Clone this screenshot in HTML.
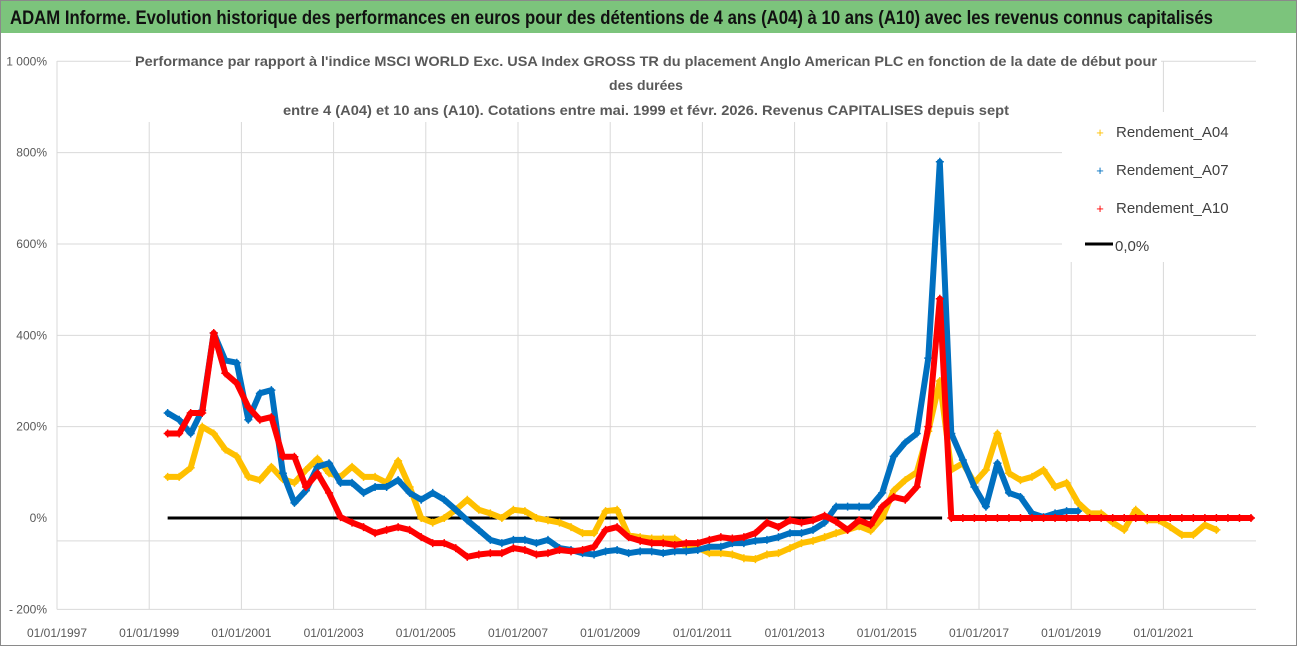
<!DOCTYPE html>
<html><head><meta charset="utf-8"><style>
html,body{margin:0;padding:0;background:#fff;}
svg{display:block;font-family:"Liberation Sans",sans-serif;}
</style></head><body>
<svg id="chart" width="1302" height="647" viewBox="0 0 1302 647">
<rect x="0" y="0" width="1302" height="647" fill="#fff"/>
<rect x="0.5" y="0.5" width="1296" height="645" fill="none" stroke="#8a8a8a"/>
<rect x="1" y="1" width="1295" height="32" fill="#7cc47c"/>
<text x="10" y="24" font-size="19" font-weight="bold" fill="#111" textLength="1203" lengthAdjust="spacingAndGlyphs">ADAM Informe. Evolution historique des performances en euros pour des détentions de 4 ans (A04) à 10 ans (A10) avec les revenus connus capitalisés</text>
<g id="grid"></g>
<rect x="131" y="40" width="1030" height="82" fill="#fff"/>
<g fill="#595959" font-size="14" font-weight="bold" text-anchor="middle">
<text x="646" y="66" textLength="1022" lengthAdjust="spacingAndGlyphs">Performance par rapport à l'indice MSCI WORLD Exc. USA Index GROSS TR  du placement Anglo American PLC en fonction de la date de début pour</text>
<text x="646" y="90">des durées</text>
<text x="646" y="115" textLength="726" lengthAdjust="spacingAndGlyphs">entre 4 (A04) et 10 ans (A10). Cotations entre mai. 1999 et févr. 2026. Revenus CAPITALISES depuis sept</text>
</g>
<g id="yticks" fill="#595959" font-size="12" text-anchor="end"></g>
<g id="xticks" fill="#595959" font-size="12" text-anchor="middle"></g>
<g id="series"></g>
<g>
<rect x="1062" y="112" width="198" height="150" fill="#fff"/>
<g><text x="1100" y="137" fill="#ffc000" font-size="13" text-anchor="middle">+</text><text x="1116" y="137" fill="#404040" font-size="15">Rendement_A04</text></g>
<g><text x="1100" y="175" fill="#0070c0" font-size="13" text-anchor="middle">+</text><text x="1116" y="175" fill="#404040" font-size="15">Rendement_A07</text></g>
<g><text x="1100" y="213" fill="#ff0000" font-size="13" text-anchor="middle">+</text><text x="1116" y="213" fill="#404040" font-size="15">Rendement_A10</text></g>
<g><line x1="1085" y1="244" x2="1113" y2="244" stroke="#000" stroke-width="3"/><text x="1115" y="251" fill="#404040" font-size="15">0,0%</text></g>
</g>
</svg>
<script>
const yTickValues = [1000, 800, 600, 400, 200, 0, -200];
const yTickLabels = ["1 000%", "800%", "600%", "400%", "200%", "0%", "- 200%"];
const yGridValues = [1000, 800, 600, 400, 200, -50];
const xTickYears = [1997, 1999, 2001, 2003, 2005, 2007, 2009, 2011, 2013, 2015, 2017, 2019, 2021];
const xTickLabels = ["01/01/1997","01/01/1999","01/01/2001","01/01/2003","01/01/2005","01/01/2007","01/01/2009","01/01/2011","01/01/2013","01/01/2015","01/01/2017","01/01/2019","01/01/2021"];
const seriesStart = 1999.4;
const seriesStep = 0.25;
const zeroLineRange = [1999.4, 2016.2];
const a04 = [90,90,110,200,185,150,135,90,83,112,85,77,105,130,98,90,112,90,90,77,125,68,0,-10,0,18,40,18,10,0,18,15,0,-5,-10,-20,-33,-33,15,18,-38,-42,-45,-45,-45,-63,-65,-77,-77,-80,-88,-90,-80,-77,-66,-55,-50,-42,-33,-26,-18,-28,0,60,83,100,190,300,105,120,77,105,185,98,83,90,105,68,77,33,10,10,-10,-26,18,-5,-5,-20,-37,-37,-15,-26];
const a07 = [230,215,185,236,405,345,340,215,273,280,98,33,60,112,120,77,77,55,68,68,83,55,40,55,40,18,-5,-26,-48,-55,-48,-48,-55,-48,-66,-70,-77,-80,-73,-70,-77,-73,-73,-77,-73,-73,-70,-63,-63,-55,-55,-50,-48,-42,-33,-33,-26,-10,25,25,25,25,55,135,165,185,350,780,185,127,68,25,120,55,46,10,2,10,15,15];
const a10 = [185,185,230,230,405,317,295,243,215,221,134,134,68,98,55,2,-10,-20,-33,-26,-20,-26,-42,-55,-55,-66,-85,-80,-77,-77,-66,-70,-80,-77,-70,-73,-70,-63,-26,-20,-42,-50,-55,-55,-59,-55,-55,-48,-42,-45,-42,-33,-10,-20,-5,-10,-5,5,-8,-26,-5,-15,25,46,40,68,200,480,0,0,0,0,0,0,0,0,0,0,0,0,0,0,0,0,0,0,0,0,0,0,0,0,0,0,0];

const NS = "http://www.w3.org/2000/svg";
const X0 = 57, YEAR0 = 1997, PX_PER_YEAR = 46.1;
const Y0 = 518, PX_PER_PCT = 0.4567;
const xs = t => X0 + (t - YEAR0) * PX_PER_YEAR;
const ys = v => Y0 - v * PX_PER_PCT;
function mk(tag, attrs, parent) {
  const e = document.createElementNS(NS, tag);
  for (const k in attrs) e.setAttribute(k, attrs[k]);
  parent.appendChild(e);
  return e;
}
const grid = document.getElementById('grid');
yGridValues.forEach(v => {
  const l = mk('line', {x1: X0, x2: 1256, y1: ys(v), y2: ys(v), stroke: '#d9d9d9', 'stroke-width': 1}, grid);
  
  
});
xTickYears.forEach((yr, i) => {
  if (i === 0) return;
  const l = mk('line', {x1: xs(yr), x2: xs(yr), y1: 61, y2: ys(-200), stroke: '#d9d9d9', 'stroke-width': 1}, grid);
  
  
});
const ax = mk('line', {x1: X0, x2: X0, y1: 61, y2: ys(-200), stroke: '#d9d9d9', 'stroke-width': 1}, grid);


const bx = mk('line', {x1: X0, x2: 1256, y1: ys(-200), y2: ys(-200), stroke: '#d9d9d9', 'stroke-width': 1}, grid);



const yt = document.getElementById('yticks');
yTickValues.forEach((v, i) => {
  const t = mk('text', {x: 47, y: ys(v) + 4}, yt);
  t.textContent = yTickLabels[i];
  
  
});
const xt = document.getElementById('xticks');
xTickYears.forEach((yr, i) => {
  const t = mk('text', {x: xs(yr), y: 637}, xt);
  t.textContent = xTickLabels[i];
  
  
});

const layer = document.getElementById('series');
const zl = mk('line', {x1: xs(zeroLineRange[0]), x2: xs(zeroLineRange[1]), y1: ys(0), y2: ys(0), stroke: '#000', 'stroke-width': 3}, layer);



function drawSeries(vals, color, name) {
  const g = mk('g', {}, layer);
  
  
  const pts = vals.map((v, i) => xs(seriesStart + i * seriesStep).toFixed(1) + ',' + ys(v).toFixed(1)).join(' ');
  const pl = mk('polyline', {points: pts, fill: 'none', stroke: color, 'stroke-width': 6, 'stroke-linejoin': 'round', 'stroke-linecap': 'round'}, g);
  
  
  vals.forEach((v, i) => {
    const x = xs(seriesStart + i * seriesStep), y = ys(v);
    const p = mk('path', {d: `M${x-4},${y}h8M${x},${y-4}v8`, stroke: color, 'stroke-width': 1.5}, g);
    
    
  });
}
drawSeries(a04, '#ffc000', 'series-a04');
drawSeries(a07, '#0070c0', 'series-a07');
drawSeries(a10, '#ff0000', 'series-a10');
</script>
</body></html>
